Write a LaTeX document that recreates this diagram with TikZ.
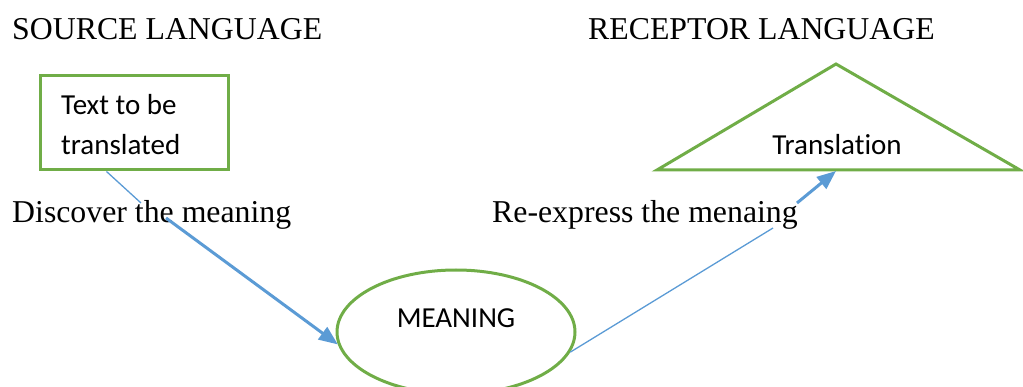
\documentclass[tikz,border=0pt]{standalone}
\usepackage{fontspec}
\setmainfont{Liberation Serif}
\newfontfamily\calib[Ligatures=NoCommon]{Carlito}
\usetikzlibrary{arrows.meta,shapes.geometric,calc}
\definecolor{shapegreen}{HTML}{70AD47}
\definecolor{linkblue}{HTML}{5B9BD5}
\tikzset{
  serifbig/.style={font=\fontsize{31.8}{38}\selectfont, inner sep=0pt, anchor=base west},
  sanslabel/.style={font=\calib\fontsize{29}{40}\selectfont, inner sep=0pt},
  greenline/.style={draw=shapegreen, line width=3pt},
  thinlink/.style={draw=linkblue, line width=1.3pt},
  thicklink/.style={draw=linkblue, line width=3pt,
    -{Triangle[length=19pt,width=15pt]}},
}
\begin{document}
\begin{tikzpicture}[x=1pt,y=-1pt]
  \clip (0,0) rectangle (1023,387);
  \useasboundingbox (0,0) rectangle (1023,387);

  % column headings
  \node[serifbig] (srchead) at (12,40) {SOURCE LANGUAGE};
  \node[serifbig] (rechead) at (588,40) {RECEPTOR LANGUAGE};

  % source text box
  \node[greenline, rectangle, minimum width=188pt, minimum height=94pt,
        inner sep=0pt] (src) at (134,123) {};
  \node[sanslabel, anchor=base west] (srctxt1) at (61,115) {Text to be};
  \node[sanslabel, anchor=base west] (srctxt2) at (61,155) {translated};

  % receptor triangle
  \coordinate (apex) at (836,64);
  \coordinate (tl) at (657,170);
  \coordinate (tr) at (1020,170);
  \draw[greenline, line join=miter] (tl) -- (apex) -- (tr) -- cycle;
  \coordinate (tribase) at (836,171);
  \node[sanslabel, anchor=base] (trtxt) at (837,155) {Translation};

  % meaning ellipse
  \node[greenline, ellipse, minimum width=238pt, minimum height=124pt,
        inner sep=0pt] (mean) at (456,332) {};
  \node[sanslabel, anchor=base] (meantxt) at (456,327) {MEANING};

  % side labels
  \node[serifbig] (disc) at (12,223) {Discover the meaning};
  \node[serifbig] (reexp) at (492,223) {Re-express the menaing};

  % connectors
  \coordinate (d1) at (141,203);
  \coordinate (d2) at (166,218);
  \draw[thinlink] ($(src.south west)!0.356!(src.south east)$) -- (d1);
  \draw[thicklink] (d2) -- (mean.186);

  \coordinate (r1) at (773,228);
  \coordinate (r2) at (797,203);
  \draw[thinlink] (mean.-10) -- (r1);
  \draw[thicklink] (r2) -- (tribase);
\end{tikzpicture}
\end{document}
